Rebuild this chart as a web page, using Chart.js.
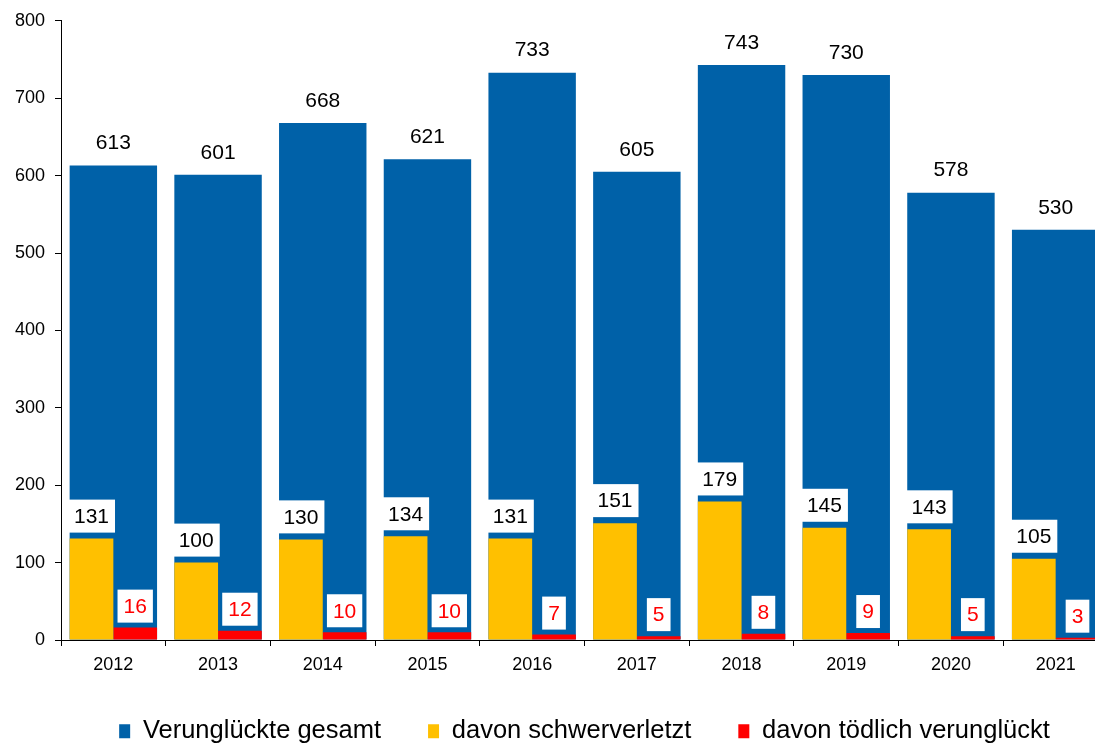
<!DOCTYPE html>
<html lang="de">
<head>
<meta charset="utf-8">
<script src="https://cdn.jsdelivr.net/npm/chart.js@4/dist/chart.umd.min.js"></script>
<style>
  html, body { margin: 0; padding: 0; background: #fff; overflow: hidden; }
  .wrap { position: relative; width: 1120px; height: 755px; }
</style>
</head>
<body>
<div class="wrap"><canvas id="chart"></canvas></div>
<script>
// --- data ---
const years = ['2012', '2013', '2014', '2015', '2016', '2017', '2018', '2019', '2020', '2021'];
const totalVals = [613, 601, 668, 621, 733, 605, 743, 730, 578, 530];
const severeVals = [131, 100, 130, 134, 131, 151, 179, 145, 143, 105];
const fatalVals = [16, 12, 10, 10, 7, 5, 8, 9, 5, 3];
const seriesNames = ['Verunglückte gesamt', 'davon schwerverletzt', 'davon tödlich verunglückt'];
const yMax = 800, yStep = 100;

const FONT = "'Liberation Sans', Arial, sans-serif";
const BLUE = '#0061A8', YELLOW = '#FFC000', RED = '#FF0000';

// white box with value above a bar
function boxLabel(ctx, v, bar, color, gap) {
  const t = String(v);
  const w = ctx.measureText(t).width + 12, h = 33;
  const bottom = bar.y - gap;
  ctx.fillStyle = '#fff';
  ctx.fillRect(bar.x - w / 2, bottom - h, w, h);
  ctx.fillStyle = color;
  ctx.fillText(t, bar.x, bottom - h / 2 + 1);
}

const valueLabels = {
  id: 'valueLabels',
  afterDatasetsDraw(chart) {
    const ctx = chart.ctx;
    const blue = chart.getDatasetMeta(0).data;
    const yel = chart.getDatasetMeta(1).data;
    const red = chart.getDatasetMeta(2).data;
    ctx.save();
    ctx.font = `21px ${FONT}`;
    ctx.textAlign = 'center';
    ctx.textBaseline = 'middle';
    years.forEach((_, i) => {
      ctx.fillStyle = '#000';
      ctx.fillText(String(totalVals[i]), blue[i].x, blue[i].y - 22);
      boxLabel(ctx, severeVals[i], yel[i], '#000', 6);
      boxLabel(ctx, fatalVals[i], red[i], RED, 5);
    });
    ctx.restore();
  }
};

const barOpts = { categoryPercentage: 0.835, barPercentage: 1, borderWidth: 0 };

new Chart(document.getElementById('chart'), {
  type: 'bar',
  data: {
    labels: years,
    datasets: [
      { label: seriesNames[0], data: totalVals, backgroundColor: BLUE, grouped: false, order: 1, ...barOpts },
      { label: seriesNames[1], data: severeVals, backgroundColor: YELLOW, order: 0, ...barOpts },
      { label: seriesNames[2], data: fatalVals, backgroundColor: RED, order: 0, ...barOpts },
    ]
  },
  options: {
    responsive: true, maintainAspectRatio: false, animation: false,
    layout: { padding: { top: 8, right: 12, bottom: 1, left: 0 } },
    plugins: {
      legend: {
        position: 'bottom', fullSize: false,
        labels: {
          color: '#000', font: { family: FONT, size: 25.5 },
          boxWidth: 11, boxHeight: 14, padding: 47,
          sort: (a, b) => a.datasetIndex - b.datasetIndex,
        }
      },
      tooltip: { enabled: false },
    },
    scales: {
      x: {
        grid: { drawOnChartArea: false, color: '#000', tickLength: 6, offset: true },
        border: { color: '#000' },
        ticks: { color: '#000', font: { family: FONT, size: 18 }, padding: 8, maxRotation: 0 },
        afterFit: s => { s.height = 31.5; },
      },
      y: {
        min: 0, max: yMax,
        ticks: { stepSize: yStep, color: '#000', font: { family: FONT, size: 18 }, padding: 10 },
        grid: { drawOnChartArea: false, color: '#000', tickLength: 6 },
        border: { color: '#000' },
        afterFit: s => { s.width = 61; },
      }
    }
  },
  plugins: [valueLabels]
});
</script>
</body>
</html>
